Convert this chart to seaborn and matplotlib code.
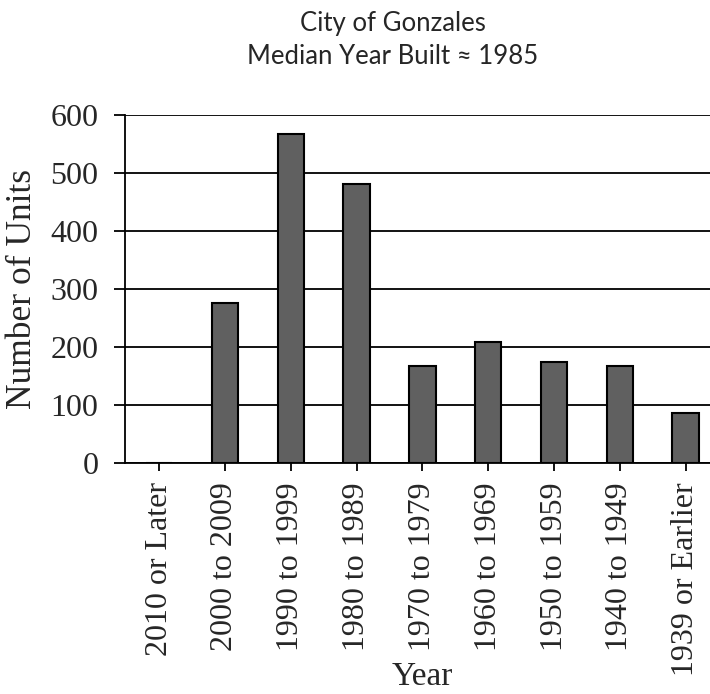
import pandas as pd
import seaborn as sns
import matplotlib.pyplot as plt

# data
categories = ["2010 or Later", "2000 to 2009", "1990 to 1999", "1980 to 1989",
              "1970 to 1979", "1960 to 1969", "1950 to 1959", "1940 to 1949",
              "1939 or Earlier"]
units = [0, 276, 567, 481, 168, 208, 174, 168, 86]
y_ticks = [0, 100, 200, 300, 400, 500, 600]

df = pd.DataFrame({"Year": categories, "Units": units})

sns.set_style("white")
plt.rcParams["font.family"] = ["Liberation Serif", "DejaVu Serif"]

fig = plt.figure(figsize=(7.1, 6.94), dpi=100)
ax = fig.add_axes([0.176, 0.333, 0.824, 0.501])

sns.barplot(data=df, x="Year", y="Units", order=categories, color="#606060",
            saturation=1, width=0.4, edgecolor="black", linewidth=1.5, ax=ax)

ax.set_ylim(0, 600)
ax.set_xlim(-0.52, 8.37)
ax.set_yticks(y_ticks)
ax.yaxis.grid(True, color="black", linewidth=1.3)
ax.set_axisbelow(True)
for s in ["top", "right"]:
    ax.spines[s].set_visible(False)
for s in ["left", "bottom"]:
    ax.spines[s].set_color("black")
    ax.spines[s].set_linewidth(1.3)

ax.tick_params(axis="y", labelsize=23, length=8, width=1.3, color="black", pad=11, left=True)
ax.tick_params(axis="x", labelsize=23, length=6, width=1.3, color="black", pad=8,
               bottom=True, labelrotation=90)
ax.set_xlabel("Year", fontsize=24)
ax.xaxis.set_label_coords(0.508, -0.57)
ax.set_ylabel("Number of Units", fontsize=25.5, labelpad=8)

fig.text(0.553, 0.966, "City of Gonzales", ha="center", va="center",
         fontsize=18.5, family=["Lato", "DejaVu Sans"])
fig.text(0.553, 0.918, "Median Year Built \u2248 1985", ha="center", va="center",
         fontsize=18.5, family=["Lato", "DejaVu Sans"])

fig.savefig("out.png", dpi=100)
